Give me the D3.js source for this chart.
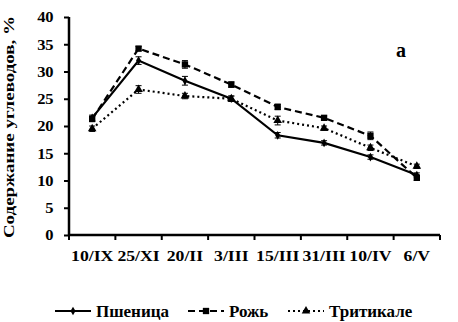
<!DOCTYPE html>
<html>
<head>
<meta charset="utf-8">
<script src="https://cdn.jsdelivr.net/npm/d3@7"></script>
<style>
  body { margin: 0; background: #fff; }
  text { font-family: "Liberation Serif", "Times New Roman", serif; font-weight: bold; fill: #000; }
</style>
</head>
<body>
<div id="chart"></div>
<script>
  // data
  var dates     = ['10/IX', '25/XI', '20/II', '3/III', '15/III', '31/III', '10/IV', '6/V'];
  var wheat     = [21.5, 32.0, 28.3, 25.0, 18.3, 16.9, 14.3, 11.0];
  var wheatErr  = [0.5, 0.7, 0.8, 0.5, 0.5, 0.4, 0.4, 0.4];
  var rye       = [21.3, 34.2, 31.3, 27.6, 23.5, 21.5, 18.2, 10.5];
  var ryeErr    = [0.5, 0.4, 0.7, 0.5, 0.5, 0.4, 0.7, 0.5];
  var trit      = [19.5, 26.7, 25.5, 25.0, 21.0, 19.6, 16.0, 12.6];
  var tritErr   = [0.5, 0.7, 0.5, 0.5, 0.8, 0.4, 0.5, 0.4];
  var yTicks    = [0, 5, 10, 15, 20, 25, 30, 35, 40];

  var width = 458, height = 322;
  var margin = {left: 69, right: 18, top: 17, bottom: 87};

  var svg = d3.select('#chart').append('svg')
    .attr('width', width)
    .attr('height', height);

  var x = d3.scaleBand().domain(dates)
    .range([margin.left, width - margin.right]);
  var y = d3.scaleLinear().domain([0, 40])
    .range([height - margin.bottom, margin.top]);

  var series = [
    {name: 'Пшеница',   values: wheat, err: wheatErr, dash: null,  marker: 'diamond'},
    {name: 'Рожь',      values: rye,   err: ryeErr,   dash: '7,4', marker: 'square'},
    {name: 'Тритикале', values: trit,  err: tritErr,  dash: '2,3', marker: 'triangle'}
  ];

  function symbolOf(m){
    if(m == 'square') return d3.symbol().type(d3.symbolSquare).size(40)();
    if(m == 'triangle') return d3.symbol().type(d3.symbolTriangle).size(32)();
    return d3.symbol().type(d3.symbolDiamond).size(22)();
  }

  // axes
  var xAxis = svg.append('g')
    .attr('transform', 'translate(0,' + y(0) + ')')
    .call(d3.axisBottom(x).tickSize(0).tickPadding(15).tickFormat(function(d){return d}));
  xAxis.select('.domain').attr('stroke-width', 2.5).attr('d', 'M' + margin.left + ',0H' + (width - margin.right));
  xAxis.selectAll('text').style('font-size', '15px').attr('transform', 'scale(1.18,1)');

  // tick marks at band edges
  var edges = dates.map(function(d){return x(d)}).concat([x.range()[1]]);
  xAxis.selectAll('.edge').data(edges).enter().append('line')
    .attr('x1', function(d){return d}).attr('x2', function(d){return d})
    .attr('y1', 0).attr('y2', 5)
    .attr('stroke', '#000').attr('stroke-width', 2);

  var yAxis = svg.append('g')
    .attr('transform', 'translate(' + margin.left + ',0)')
    .call(d3.axisLeft(y).tickValues(yTicks).tickSize(5).tickPadding(9));
  yAxis.select('.domain').attr('stroke-width', 2.5).attr('d', 'M0,' + (y(0) + 1) + 'V' + y(40));
  yAxis.selectAll('.tick line').attr('stroke-width', 2);
  yAxis.selectAll('text').style('font-size', '15px').attr('transform', 'scale(1.1,1)');

  svg.append('text')
    .attr('transform', 'translate(14,' + ((y(0) + y(40)) / 2 + 1) + ') rotate(-90) scale(1,0.82)')
    .attr('text-anchor', 'middle')
    .style('font-size', '19px')
    .text('Содержание углеводов, %');

  svg.append('text')
    .attr('x', 401).attr('y', 57)
    .attr('text-anchor', 'middle')
    .style('font-size', '20px')
    .text('a');

  var cx = function(d, i){return x(dates[i]) + x.bandwidth() / 2};

  var line = d3.line()
    .x(function(d, i){return cx(d, i)})
    .y(function(d){return y(d)});

  series.forEach(function(s){
    var g = svg.append('g');
    g.append('path')
      .attr('d', line(s.values))
      .attr('fill', 'none')
      .attr('stroke', '#000')
      .attr('stroke-width', 2.2)
      .attr('stroke-dasharray', s.dash);

    // error bars
    g.selectAll('.err').data(s.values).enter().append('path')
      .attr('d', function(d, i){
        var px = cx(d, i), y1 = y(d - s.err[i]), y2 = y(d + s.err[i]);
        return 'M' + (px - 3) + ',' + y1 + 'H' + (px + 3) + 'M' + px + ',' + y1 + 'V' + y2 + 'M' + (px - 3) + ',' + y2 + 'H' + (px + 3);
      })
      .attr('stroke', '#000').attr('stroke-width', 1).attr('fill', 'none');

    g.selectAll('.pt').data(s.values).enter().append('path')
      .attr('d', symbolOf(s.marker))
      .attr('transform', function(d, i){return 'translate(' + cx(d, i) + ',' + y(d) + ')'})
      .attr('fill', '#000');
  });

  // legend
  var legendX = [55, 188, 288];
  var leg = svg.append('g').attr('transform', 'translate(0,311)');
  series.forEach(function(s, i){
    var lx = legendX[i];
    leg.append('line')
      .attr('x1', lx).attr('x2', lx + 36).attr('y1', 0).attr('y2', 0)
      .attr('stroke', '#000').attr('stroke-width', 2.2)
      .attr('stroke-dasharray', s.dash);
    leg.append('path')
      .attr('d', symbolOf(s.marker))
      .attr('transform', 'translate(' + (lx + 18) + ',0)')
      .attr('fill', '#000');
    leg.append('text')
      .attr('x', lx + 41).attr('y', 6)
      .style('font-size', '17px')
      .text(s.name);
  });
</script>
</body>
</html>
